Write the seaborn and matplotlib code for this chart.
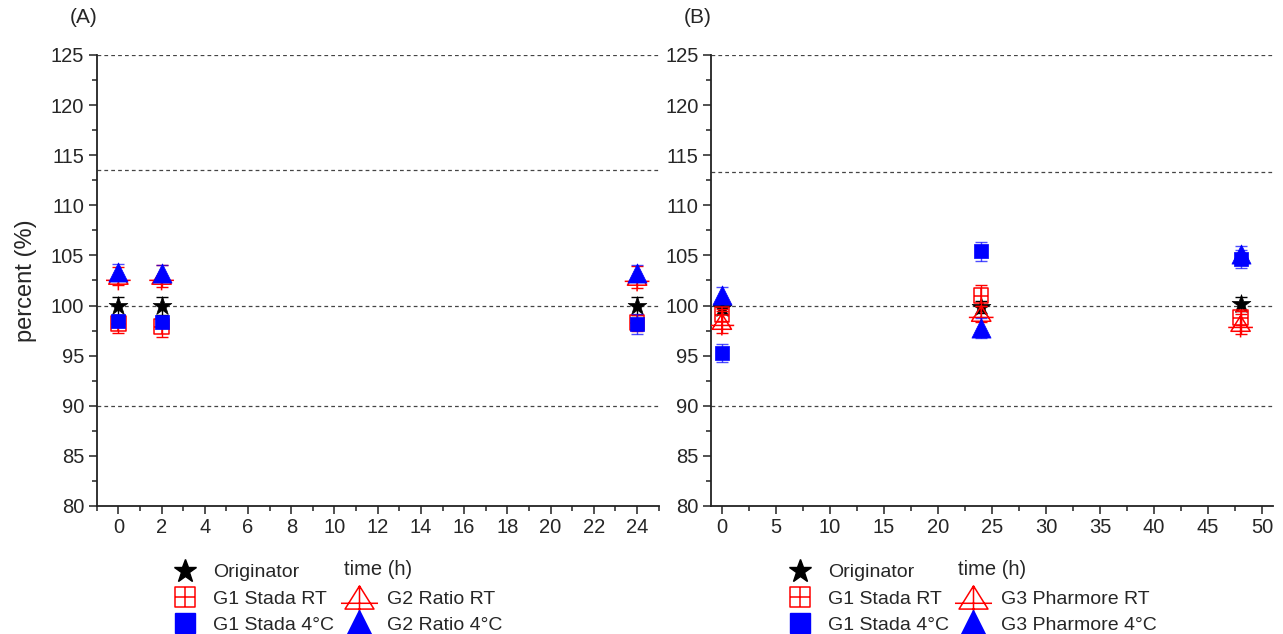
import numpy as np
import pandas as pd
import seaborn as sns
import matplotlib.pyplot as plt
from matplotlib.path import Path
from matplotlib.lines import Line2D
from matplotlib.ticker import MultipleLocator

sns.set_theme(style='ticks')
plt.rcParams['font.family'] = ['Liberation Sans', 'DejaVu Sans']

# panel (A) - times in h, values in percent
time_a = [0, 2, 24]
orig_a = [100.0, 100.0, 100.0]
orig_a_err = [0.9, 0.9, 0.9]
g1_rt_a = [98.2, 97.9, 98.3]
g1_rt_a_err = [0.9, 1.0, 0.8]
g1_4c_a = [98.5, 98.4, 98.2]
g1_4c_a_err = [0.6, 0.6, 1.0]
g2_rt_a = [102.9, 102.9, 102.8]
g2_rt_a_err = [0.9, 1.1, 1.1]
g2_4c_a = [103.3, 103.2, 103.2]
g2_4c_a_err = [0.8, 0.8, 0.8]
limits_a = [125, 113.5, 100, 90]

# panel (B)
time_b = [0, 24, 48]
orig_b = [99.8, 99.9, 100.2]
orig_b_err = [0.6, 0.6, 0.7]
g1_rt_b = [99.1, 101.0, 98.8]
g1_rt_b_err = [0.6, 1.0, 0.7]
g1_4c_b = [95.3, 105.4, 104.6]
g1_4c_b_err = [0.9, 0.95, 0.9]
g3_rt_b = [98.4, 99.2, 98.2]
g3_rt_b_err = [1.1, 0.8, 1.0]
g3_4c_b = [101.1, 97.8, 105.1]
g3_4c_b_err = [0.7, 1.0, 0.8]
limits_b = [125, 113.3, 100, 90]

RED = '#ff0000'
BLUE = '#0000ff'

# square with a cross inside
boxplus = Path([(-1, -1), (1, -1), (1, 1), (-1, 1), (-1, -1),
                (0, -1), (0, 1), (-1, 0), (1, 0)],
               [Path.MOVETO, Path.LINETO, Path.LINETO, Path.LINETO, Path.CLOSEPOLY,
                Path.MOVETO, Path.LINETO, Path.MOVETO, Path.LINETO])
# open triangle with a cross through it
triplus = Path([(0, 1), (-1.25, -1), (1.25, -1), (0, 1),
                (0, 1), (0, -1.8), (-1.6, -0.5), (1.6, -0.5)],
               [Path.MOVETO, Path.LINETO, Path.LINETO, Path.CLOSEPOLY,
                Path.MOVETO, Path.LINETO, Path.MOVETO, Path.LINETO])


def draw_panel(ax, t, series, limits, xmax, xmajor, xminor, labels, tag):
    for y in limits:
        ax.axhline(y, color='#444444', lw=0.9, ls=(0, (3, 2.5)), zorder=1)

    z = 3
    for vals, errs, marker, size, color, filled in series:
        df = pd.DataFrame({'time': t, 'value': vals})
        ax.errorbar(t, vals, yerr=errs, fmt='none', ecolor=color, elinewidth=1,
                    capsize=4, capthick=1, alpha=0.7 if color == BLUE else 1, zorder=z)
        if filled:
            sns.scatterplot(data=df, x='time', y='value', ax=ax, marker=marker, s=size,
                            color=color, edgecolor=color, linewidth=0.5, zorder=z + 1)
        else:
            sns.scatterplot(data=df, x='time', y='value', ax=ax, marker=marker, s=size,
                            color=color, facecolor='none', edgecolor=color, linewidth=1.1,
                            zorder=z + 1)
        z += 2

    ax.set_xlim(-1, xmax)
    ax.set_ylim(80, 125)
    ax.xaxis.set_major_locator(MultipleLocator(xmajor))
    ax.xaxis.set_minor_locator(MultipleLocator(xminor))
    ax.yaxis.set_major_locator(MultipleLocator(5))
    ax.yaxis.set_minor_locator(MultipleLocator(2.5))
    ax.tick_params(which='major', length=6, width=1.1, color='#222222', labelsize=14.5,
                   pad=3)
    ax.tick_params(which='minor', length=3.5, width=1.1, color='#222222')
    sns.despine(ax=ax)
    for sp in ('left', 'bottom'):
        ax.spines[sp].set_color('#222222')
        ax.spines[sp].set_linewidth(1.3)
    ax.set_xlabel('time (h)', fontsize=14.5, labelpad=16)
    ax.set_ylabel('')
    ax.text(-0.048, 1.082, tag, transform=ax.transAxes, fontsize=15, ha='left', va='center')

    handles = [
        Line2D([], [], ls='none', marker='*', ms=17, color='black'),
        Line2D([], [], ls='none', marker=boxplus, ms=15, mfc='none', mec=RED, mew=1.1),
        Line2D([], [], ls='none', marker='s', ms=14, color=BLUE),
        Line2D([], [], ls='none', marker=None),
        Line2D([], [], ls='none', marker=triplus, ms=30, mfc='none', mec=RED, mew=1.1),
        Line2D([], [], ls='none', marker='^', ms=19, color=BLUE),
    ]
    ax.legend(handles, labels, ncol=2, loc='upper left', bbox_to_anchor=(0.135, -0.128),
              frameon=False, fontsize=14, handlelength=1.3, handletextpad=0.8,
              labelspacing=0.45, columnspacing=0.6, borderpad=0, borderaxespad=0)


fig = plt.figure(figsize=(12.83, 6.34), dpi=100)
ax_a = fig.add_axes([0.0754, 0.2019, 0.438, 0.7114])
ax_b = fig.add_axes([0.5542, 0.2019, 0.438, 0.7114])

series_a = [
    (orig_a, orig_a_err, '*', 200, 'black', True),
    (g1_rt_a, g1_rt_a_err, boxplus, 110, RED, False),
    (g2_rt_a, g2_rt_a_err, triplus, 400, RED, False),
    (g1_4c_a, g1_4c_a_err, 's', 100, BLUE, True),
    (g2_4c_a, g2_4c_a_err, '^', 190, BLUE, True),
]
series_b = [
    (orig_b, orig_b_err, '*', 200, 'black', True),
    (g1_rt_b, g1_rt_b_err, boxplus, 110, RED, False),
    (g3_rt_b, g3_rt_b_err, triplus, 400, RED, False),
    (g1_4c_b, g1_4c_b_err, 's', 100, BLUE, True),
    (g3_4c_b, g3_4c_b_err, '^', 190, BLUE, True),
]

draw_panel(ax_a, time_a, series_a, limits_a, 25, 2, 1,
           ['Originator', 'G1 Stada RT', 'G1 Stada 4°C', '', 'G2 Ratio RT', 'G2 Ratio 4°C'],
           '(A)')
draw_panel(ax_b, time_b, series_b, limits_b, 51, 5, 2.5,
           ['Originator', 'G1 Stada RT', 'G1 Stada 4°C', '', 'G3 Pharmore RT',
            'G3 Pharmore 4°C'],
           '(B)')
ax_a.set_ylabel('percent (%)', fontsize=17, labelpad=10)

fig.savefig('out.png', dpi=100)
